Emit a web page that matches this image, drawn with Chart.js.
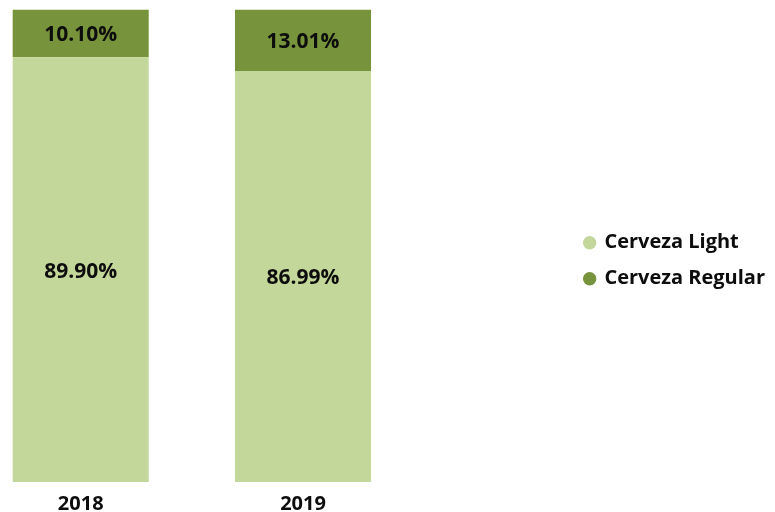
<!DOCTYPE html>
<html>
<head>
<meta charset="utf-8">
<script src="https://cdn.jsdelivr.net/npm/chart.js@4.4.1/dist/chart.umd.min.js"></script>
<style>
  html, body { margin: 0; padding: 0; background: #fff; }
  #wrap { position: relative; width: 775px; height: 512px; }
</style>
</head>
<body>
<div id="wrap"><canvas id="beerChart"></canvas></div>
<script>
// Beer mix by year, share of volume (%)
const years = ['2018', '2019'];
const lightShare = [89.90, 86.99];
const regularShare = [10.10, 13.01];

const lightColor = '#c4d79b';
const regularColor = '#77933c';
const textColor = '#0d0d0d';
const fontFamily = "'Open Sans', 'Noto Sans', sans-serif";

// pixel spacing between the two year columns and where the first one sits
const yearStep = 222.3;
const firstYearX = 80.7;

// writes each segment's percentage in the middle of the bar
const segmentLabels = {
  id: 'segmentLabels',
  afterDatasetsDraw(chart) {
    const ctx = chart.ctx;
    ctx.save();
    ctx.font = 'bold 21px ' + fontFamily;
    ctx.fillStyle = textColor;
    ctx.textAlign = 'center';
    ctx.textBaseline = 'middle';
    chart.data.datasets.forEach((ds, di) => {
      chart.getDatasetMeta(di).data.forEach((bar, i) => {
        const v = ds.data[i].y;
        const cy = (bar.y + bar.base) / 2 + 2;
        ctx.fillText(v.toFixed(2) + '%', bar.x, cy);
      });
    });
    ctx.restore();
  }
};

const toPoints = arr => arr.map((v, i) => ({ x: i, y: v }));

new Chart(document.getElementById('beerChart'), {
  type: 'bar',
  data: {
    datasets: [
      {
        label: 'Cerveza Light',
        data: toPoints(lightShare),
        backgroundColor: lightColor,
        borderWidth: 0,
        barPercentage: 0.612,
        categoryPercentage: 1
      },
      {
        label: 'Cerveza Regular',
        data: toPoints(regularShare),
        backgroundColor: regularColor,
        borderWidth: 0,
        barPercentage: 0.612,
        categoryPercentage: 1
      }
    ]
  },
  options: {
    responsive: true,
    maintainAspectRatio: false,
    animation: false,
    layout: { padding: { top: 9.5, left: 0, right: 0, bottom: 0 } },
    plugins: {
      tooltip: { enabled: false },
      legend: {
        position: 'right',
        labels: {
          usePointStyle: true,
          pointStyle: 'circle',
          boxWidth: 9.5,
          boxHeight: 9.5,
          padding: 16,
          color: textColor,
          font: { family: fontFamily, size: 20, weight: 'bold' }
        }
      }
    },
    scales: {
      x: {
        type: 'linear',
        stacked: true,
        offset: false,
        bounds: 'data',
        grid: { display: false, drawTicks: false, offset: false },
        border: { display: false },
        afterDataLimits: s => {
          s.min = -firstYearX / yearStep;
          s.max = s.min + s.width / yearStep;
        },
        afterBuildTicks: s => {
          s.ticks = years.map((_, i) => ({ value: i }));
        },
        afterFit: s => { s.height = 30; },
        ticks: {
          padding: 12,
          autoSkip: false,
          maxRotation: 0,
          color: textColor,
          font: { family: fontFamily, size: 20, weight: 'bold', lineHeight: 1 },
          callback: v => years[v]
        }
      },
      y: {
        stacked: true,
        min: 0,
        max: 100,
        display: false
      }
    }
  },
  plugins: [segmentLabels]
});
</script>
</body>
</html>
